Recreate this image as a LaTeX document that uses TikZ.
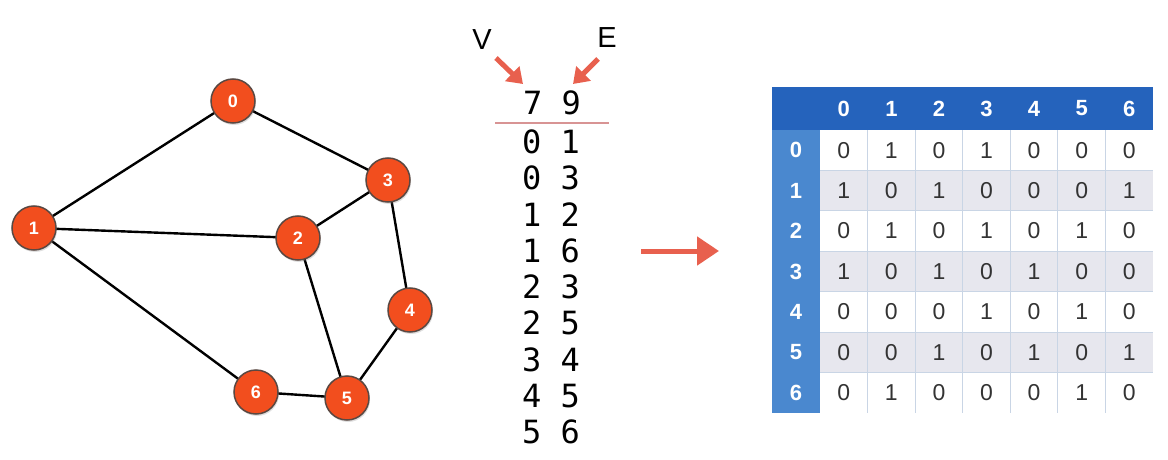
\documentclass[tikz,border=0pt]{standalone}
\usepackage{fontspec}
\setmainfont{Liberation Sans}
\setmonofont{DejaVu Sans Mono}
\usetikzlibrary{arrows.meta,shadows}

\definecolor{vertexred}{HTML}{F24E1E}
\definecolor{vertexrim}{HTML}{5A4842}
\definecolor{markred}{HTML}{E8604E}
\definecolor{ruleline}{HTML}{D89494}
\definecolor{headblue}{HTML}{2563BC}
\definecolor{sideblue}{HTML}{4A88CF}
\definecolor{rowgray}{HTML}{E7E7EE}
\definecolor{gridline}{HTML}{C9D5E5}
\definecolor{celltext}{HTML}{333333}

\begin{document}
\begin{tikzpicture}[x=1pt, y=-1pt,
	vertex/.style={circle, draw=vertexrim, line width=1.5pt, fill=vertexred, minimum size=44pt, inner sep=0pt,
		text=white, font=\bfseries\fontsize{18}{18}\selectfont,
		drop shadow={opacity=0.25, shadow xshift=1pt, shadow yshift=-2pt}},
	edge/.style={line width=2.4pt, black},
	pairtext/.style={font=\ttfamily\fontsize{32}{32}\selectfont, text=black, inner sep=0pt},
	marker/.style={draw=markred, line width=5pt, -{Triangle[length=15pt, width=20pt]}},
	headtext/.style={text=white, font=\bfseries\fontsize{22}{22}\selectfont},
	celltxt/.style={text=celltext, font=\fontsize{23}{23}\selectfont}]
	\useasboundingbox (0,0) rectangle (1168,460);

	% Graph: place vertices
	\foreach \x/\y [count=\n from 0] in {233/101, 34/228, 298/238, 388/180, 410/310, 347/398, 256/392} {
		\coordinate (p\n) at (\x,\y);
	}

	% Draw all edges first, vertices on top
	\foreach \i/\j in {0/1, 0/3, 1/2, 1/6, 2/3, 2/5, 3/4, 4/5, 5/6} {
		\draw[edge] (p\i) -- (p\j);
	}
	\foreach \n in {0,...,6} {
		\node[vertex] (v\n) at (p\n) {\n};
	}

	% Edge list: V and E, then the pairs
	\node[font=\fontsize{29}{29}\selectfont] (vlabel) at (482,40) {V};
	\node[font=\fontsize{29}{29}\selectfont] (elabel) at (607,38) {E};
	\node[pairtext] (count) at (552,103) {7 9};
	\coordinate (vtail) at (496,58);
	\coordinate (etail) at (598,59);
	\draw[marker] (vtail) -- (523,84);
	\draw[marker] (etail) -- (573,84);
	\coordinate (rulea) at (495,123);
	\coordinate (ruleb) at (609,123);
	\draw[ruleline, line width=1.5pt] (rulea) -- (ruleb);
	\foreach \pair [count=\k from 0] in {0 1, 0 3, 1 2, 1 6, 2 3, 2 5, 3 4, 4 5, 5 6} {
		\node[pairtext] (pair\k) at (551,142+36.25*\k) {\pair};
	}

	% Arrow to the matrix
	\coordinate (gofrom) at (641,251);
	\coordinate (goto) at (719,251);
	\draw[markred, line width=5pt, -{Triangle[length=22pt, width=28pt]}] (gofrom) -- (goto);

	% Adjacency matrix
	\fill[headblue] (772,87) rectangle (1153,130);
	\fill[sideblue] (772,130) rectangle (820,413);
	\foreach \r in {1,3,5} {
		\fill[rowgray] (820,130+40.43*\r) rectangle (1153,130+40.43*\r+40.43);
	}
	\foreach \r in {1,...,6} {
		\draw[gridline, line width=1pt] (820,130+40.43*\r) -- (1153,130+40.43*\r);
	}
	\foreach \c in {1,...,6} {
		\draw[gridline, line width=1pt] (820+47.57*\c,130) -- (820+47.57*\c,413);
	}
	\foreach \c in {0,...,6} {
		\node[headtext] (col\c) at (843.8+47.57*\c,108.5) {\c};
		\node[headtext] (row\c) at (796,150.2+40.43*\c) {\c};
	}
	\foreach \row [count=\r from 0] in {{0,1,0,1,0,0,0}, {1,0,1,0,0,0,1}, {0,1,0,1,0,1,0},
		{1,0,1,0,1,0,0}, {0,0,0,1,0,1,0}, {0,0,1,0,1,0,1}, {0,1,0,0,0,1,0}} {
		\foreach \val [count=\c from 0] in \row {
			\node[celltxt] (cell\r\c) at (843.8+47.57*\c,150.2+40.43*\r) {\val};
		}
	}
\end{tikzpicture}
\end{document}
